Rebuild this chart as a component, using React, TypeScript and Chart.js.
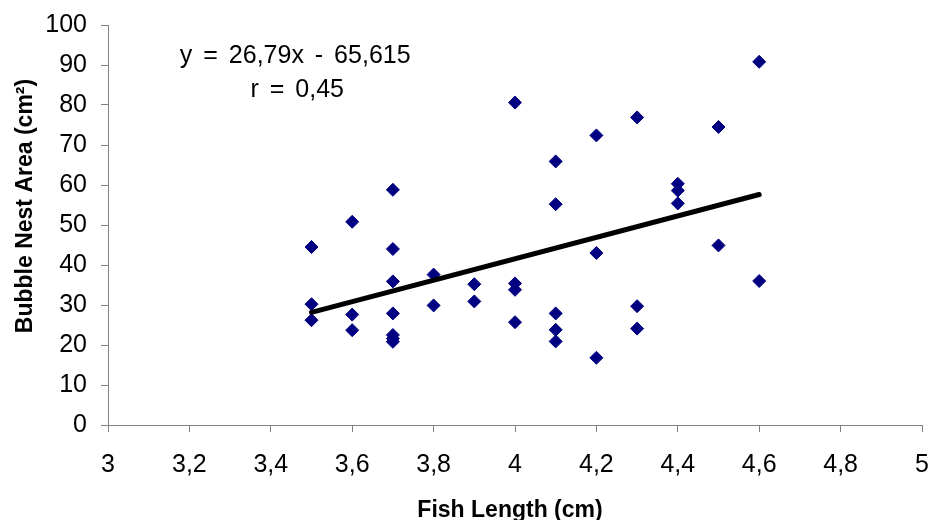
import React, { useEffect, useRef } from "react";
import { Chart, registerables } from "chart.js";

Chart.register(...registerables);

const fishLength = [
  3.5, 3.5, 3.5,
  3.6, 3.6, 3.6,
  3.7, 3.7, 3.7, 3.7, 3.7, 3.7, 3.7,
  3.8, 3.8,
  3.9, 3.9,
  4.0, 4.0, 4.0, 4.0,
  4.1, 4.1, 4.1, 4.1, 4.1,
  4.2, 4.2, 4.2,
  4.3, 4.3, 4.3,
  4.4, 4.4, 4.4,
  4.5, 4.5,
  4.6, 4.6,
];
const nestArea = [
  44.5, 30.2, 26.2,
  50.8, 27.6, 23.7,
  58.8, 44.0, 35.9, 27.9, 22.5, 21.6, 20.8,
  37.6, 29.9,
  35.2, 30.9,
  80.6, 35.4, 33.8, 25.7,
  65.9, 55.2, 27.9, 23.8, 20.9,
  72.4, 43.0, 16.8,
  76.9, 29.7, 24.1,
  60.3, 58.6, 55.4,
  74.5, 44.9,
  90.8, 36.0,
];
const trendX = [3.5, 4.6];
const trendY = [28.15, 57.62];

const xTickLabels = ["3", "3,2", "3,4", "3,6", "3,8", "4", "4,2", "4,4", "4,6", "4,8", "5"];
const yTickLabels = ["0", "10", "20", "30", "40", "50", "60", "70", "80", "90", "100"];

const equationText = "y = 26,79x - 65,615";
const rText = "r = 0,45";
const xTitle = "Fish Length (cm)";
const yTitle = "Bubble Nest Area (cm²)";

const FONT = "'Liberation Sans', Arial, Helvetica, sans-serif";

export default function App() {
  const canvasRef = useRef<HTMLCanvasElement | null>(null);

  useEffect(() => {
    document.body.style.margin = "0";
    const canvas = canvasRef.current;
    if (!canvas) return;

    const textPlugin = {
      id: "textPlugin",
      afterDraw(chart: any) {
        const ctx = chart.ctx as CanvasRenderingContext2D;
        const xs = chart.scales.x;
        const ys = chart.scales.y;
        const area = chart.chartArea;
        ctx.save();
        ctx.fillStyle = "#000";
        // equation text box
        ctx.font = `25px ${FONT}`;
        (ctx as any).wordSpacing = "4px";
        ctx.textAlign = "center";
        ctx.textBaseline = "alphabetic";
        ctx.fillText(equationText, xs.getPixelForValue(3.46), ys.getPixelForValue(90.5));
        ctx.fillText(rText, xs.getPixelForValue(3.465), ys.getPixelForValue(82));
        (ctx as any).wordSpacing = "0px";
        // axis titles
        ctx.font = `bold 23px ${FONT}`;
        ctx.fillText(xTitle, (area.left + area.right) / 2 - 5, 517);
        ctx.translate(31.5, 206);
        ctx.rotate(-Math.PI / 2);
        ctx.fillText(yTitle, 0, 0);
        ctx.restore();
      },
    };

    const chart = new Chart(canvas, {
      type: "scatter",
      data: {
        datasets: [
          {
            label: "Trend",
            data: trendX.map((x, i) => ({ x, y: trendY[i] })),
            showLine: true,
            borderColor: "#000000",
            borderWidth: 5,
            borderCapStyle: "round",
            pointRadius: 0,
            pointHoverRadius: 0,
          } as any,
          {
            label: "Bubble nest",
            data: fishLength.map((x, i) => ({ x, y: nestArea[i] })),
            pointStyle: "rectRot",
            pointRadius: 6.5,
            pointBackgroundColor: "#000080",
            pointBorderColor: "#000080",
            pointBorderWidth: 1,
            showLine: false,
          },
        ],
      },
      options: {
        responsive: false,
        animation: false,
        layout: { padding: { top: 25, right: 10, bottom: 0, left: 0 } },
        plugins: {
          legend: { display: false },
          tooltip: { enabled: false },
        },
        scales: {
          x: {
            type: "linear",
            min: 3,
            max: 5,
            ticks: {
              stepSize: 0.2,
              autoSkip: false,
              maxRotation: 0,
              color: "#000",
              padding: 18,
              font: { family: FONT, size: 25 },
              callback: (_v: any, i: number) => xTickLabels[i] ?? "",
            },
            grid: {
              drawOnChartArea: false,
              drawTicks: true,
              tickLength: 7,
              color: "#808080",
            },
            border: { display: true, color: "#808080", width: 1 },
            afterFit: (s: any) => {
              s.height = 95;
              s.paddingLeft = 0;
              s.paddingRight = 0;
            },
          },
          y: {
            type: "linear",
            min: 0,
            max: 100,
            ticks: {
              stepSize: 10,
              color: "#000",
              padding: 14,
              font: { family: FONT, size: 25 },
              callback: (_v: any, i: number) => yTickLabels[i] ?? "",
            },
            grid: {
              drawOnChartArea: false,
              drawTicks: true,
              tickLength: 7,
              color: "#808080",
            },
            border: { display: true, color: "#808080", width: 1 },
            afterFit: (s: any) => {
              s.width = 108;
              s.paddingTop = 0;
              s.paddingBottom = 0;
            },
          },
        },
      } as any,
      plugins: [textPlugin],
    });

    return () => {
      chart.destroy();
    };
  }, []);

  return (
    <div style={{ width: 932, height: 520, background: "#fff" }}>
      <canvas ref={canvasRef} width={932} height={520} style={{ display: "block" }} />
    </div>
  );
}
